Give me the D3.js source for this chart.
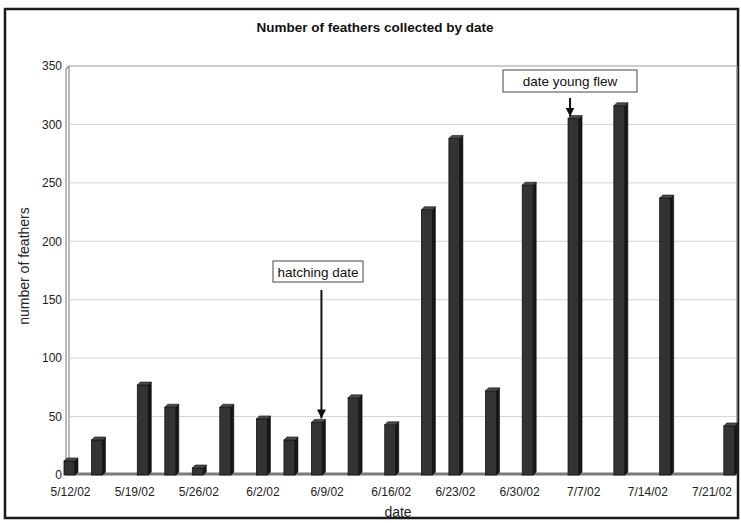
<!DOCTYPE html>
<html>
<head>
<meta charset="utf-8">
<script src="https://cdn.jsdelivr.net/npm/d3@7"></script>
<style>
  html, body { margin: 0; padding: 0; background: #fff; }
  svg { display: block; font-family: "Liberation Sans", Arial, sans-serif; }
</style>
</head>
<body>
<svg id="chart" width="741" height="523"></svg>
<script>
// Collection dates and feather counts
const dates = ["5/12/02","5/15/02","5/20/02","5/23/02","5/26/02","5/29/02","6/2/02","6/5/02","6/8/02","6/12/02",
               "6/16/02","6/20/02","6/23/02","6/27/02","7/1/02","7/6/02","7/11/02","7/16/02","7/23/02"];
const feathers = [12, 30, 77, 58, 6, 58, 48, 30, 45, 66, 43, 227, 288, 72, 248, 305, 316, 237, 42];

// Axis ticks
const xTickLabels = ["5/12/02","5/19/02","5/26/02","6/2/02","6/9/02","6/16/02","6/23/02","6/30/02","7/7/02","7/14/02","7/21/02"];
const yTickValues = [0, 50, 100, 150, 200, 250, 300, 350];

// Event notes
const noteLabels = ["hatching date", "date young flew"];
const noteDates = ["6/8/02", "7/6/02"];

const parse = d3.timeParse("%m/%d/%y");
const fmt = d3.timeFormat("%-m/%-d/%y");

const svg = d3.select("#chart");

// plot box
const pLeft = 70, pRight = 739, pTop = 66, pBottom = 475;

const x = d3.scaleTime()
  .domain([parse("5/12/02"), parse("7/24/02")])
  .range([pLeft, pRight]);
const y = d3.scaleLinear().domain([0, 350]).range([pBottom, pTop]);

// outer frame
svg.append("rect")
  .attr("x", 5).attr("y", 9).attr("width", 733).attr("height", 509)
  .attr("fill", "#fff").attr("stroke", "#1a1a1a").attr("stroke-width", 2.5);

// title
svg.append("text")
  .attr("x", 375).attr("y", 32)
  .attr("text-anchor", "middle")
  .attr("font-size", 13.5).attr("font-weight", "bold").attr("fill", "#111")
  .text("Number of feathers collected by date");

// gridlines
svg.append("g").selectAll("line")
  .data(yTickValues.filter(v => v > 0 && v < 350))
  .join("line")
  .attr("x1", pLeft).attr("x2", pRight - 2)
  .attr("y1", d => y(d)).attr("y2", d => y(d))
  .attr("stroke", "#d4d4d4").attr("stroke-width", 1);

// plot walls
const wall = svg.append("g").attr("fill", "none").attr("stroke", "#8a8a8a");
wall.append("line").attr("x1", pLeft - 4).attr("x2", pLeft - 4).attr("y1", pTop + 3).attr("y2", pBottom).attr("stroke-width", 1.2);
wall.append("line").attr("x1", pLeft - 1).attr("x2", pLeft - 1).attr("y1", pTop).attr("y2", pBottom - 2).attr("stroke-width", 1.2);
wall.append("line").attr("x1", pLeft - 4).attr("x2", pLeft - 1).attr("y1", pTop + 3).attr("y2", pTop).attr("stroke-width", 1.2);
wall.append("line").attr("x1", pLeft - 1).attr("x2", pRight - 2).attr("y1", pTop).attr("y2", pTop).attr("stroke-width", 1.2).attr("stroke", "#9a9a9a");
wall.append("line").attr("x1", pRight - 2).attr("x2", pRight - 2).attr("y1", pTop).attr("y2", pBottom - 2).attr("stroke-width", 1.2).attr("stroke", "#9a9a9a");

// floor
svg.append("line")
  .attr("x1", pLeft - 4).attr("x2", pRight - 2)
  .attr("y1", pBottom - 1).attr("y2", pBottom - 1)
  .attr("stroke", "#7a7a7a").attr("stroke-width", 3);

// 3D-style columns
const bw = 11, depth = 3;
const data = dates.map((d, i) => ({ date: parse(d), value: feathers[i] }));
const bars = svg.append("g").selectAll("g").data(data).join("g");
bars.append("rect")
  .attr("x", d => x(d.date) - 6).attr("y", d => y(d.value))
  .attr("width", bw).attr("height", d => pBottom - y(d.value))
  .attr("fill", "#333").attr("stroke", "#111").attr("stroke-width", 0.8);
bars.append("path")
  .attr("d", d => {
    const x0 = x(d.date) - 6 + bw, yt = y(d.value);
    return `M${x0},${yt} L${x0 + depth},${yt - depth} L${x0 + depth},${pBottom - depth} L${x0},${pBottom} Z`;
  })
  .attr("fill", "#161616").attr("stroke", "#111").attr("stroke-width", 0.6);
bars.append("path")
  .attr("d", d => {
    const x0 = x(d.date) - 6, yt = y(d.value);
    return `M${x0},${yt} L${x0 + depth},${yt - depth} L${x0 + bw + depth},${yt - depth} L${x0 + bw},${yt} Z`;
  })
  .attr("fill", "#4a4a4a").attr("stroke", "#111").attr("stroke-width", 0.6);

// axes
const xAxis = svg.append("g")
  .attr("transform", `translate(0,${pBottom})`)
  .call(d3.axisBottom(x).tickValues(xTickLabels.map(parse)).tickFormat(fmt).tickSize(0).tickPadding(12));
xAxis.select(".domain").remove();
xAxis.selectAll("text").attr("font-size", 12).attr("fill", "#222").attr("font-family", "Liberation Sans, Arial, sans-serif");

const yAxis = svg.append("g")
  .attr("transform", `translate(${pLeft},0)`)
  .call(d3.axisLeft(y).tickValues(yTickValues).tickSize(0).tickPadding(8));
yAxis.select(".domain").remove();
yAxis.selectAll("text").attr("font-size", 12).attr("fill", "#222").attr("font-family", "Liberation Sans, Arial, sans-serif");

// axis titles
svg.append("text")
  .attr("x", 398).attr("y", 517)
  .attr("text-anchor", "middle").attr("font-size", 14).attr("fill", "#222")
  .text("date");
svg.append("text")
  .attr("transform", "translate(29,266) rotate(-90)")
  .attr("text-anchor", "middle").attr("font-size", 14).attr("fill", "#222")
  .text("number of feathers");

// notes: label box placement and arrow geometry
const noteLayout = [
  { box: [273, 261, 90, 21], arrowX: 4, arrowTop: 290, gap: 4 },
  { box: [503, 70, 134, 22], arrowX: -4, arrowTop: 98, gap: 2 }
];
const defs = svg.append("defs");
defs.append("marker")
  .attr("id", "head").attr("viewBox", "0 0 10 10")
  .attr("refX", 10).attr("refY", 5)
  .attr("markerWidth", 4.5).attr("markerHeight", 4.5)
  .attr("markerUnits", "strokeWidth")
  .attr("orient", "auto")
  .append("path").attr("d", "M0,0 L10,5 L0,10 Z").attr("fill", "#111");

noteLabels.forEach((label, i) => {
  const L = noteLayout[i];
  const d = parse(noteDates[i]);
  const v = feathers[dates.indexOf(noteDates[i])];
  const [bx, by, bwid, bh] = L.box;
  svg.append("rect")
    .attr("x", bx).attr("y", by).attr("width", bwid).attr("height", bh)
    .attr("fill", "#fff").attr("stroke", "#444").attr("stroke-width", 1);
  svg.append("text")
    .attr("x", bx + bwid / 2).attr("y", by + bh / 2 + 5)
    .attr("text-anchor", "middle").attr("font-size", 13.5).attr("fill", "#111")
    .text(label);
  const ax = x(d) + L.arrowX;
  svg.append("line")
    .attr("x1", ax).attr("x2", ax)
    .attr("y1", L.arrowTop).attr("y2", y(v) - L.gap)
    .attr("stroke", "#111").attr("stroke-width", 2)
    .attr("marker-end", "url(#head)");
});
</script>
</body>
</html>
